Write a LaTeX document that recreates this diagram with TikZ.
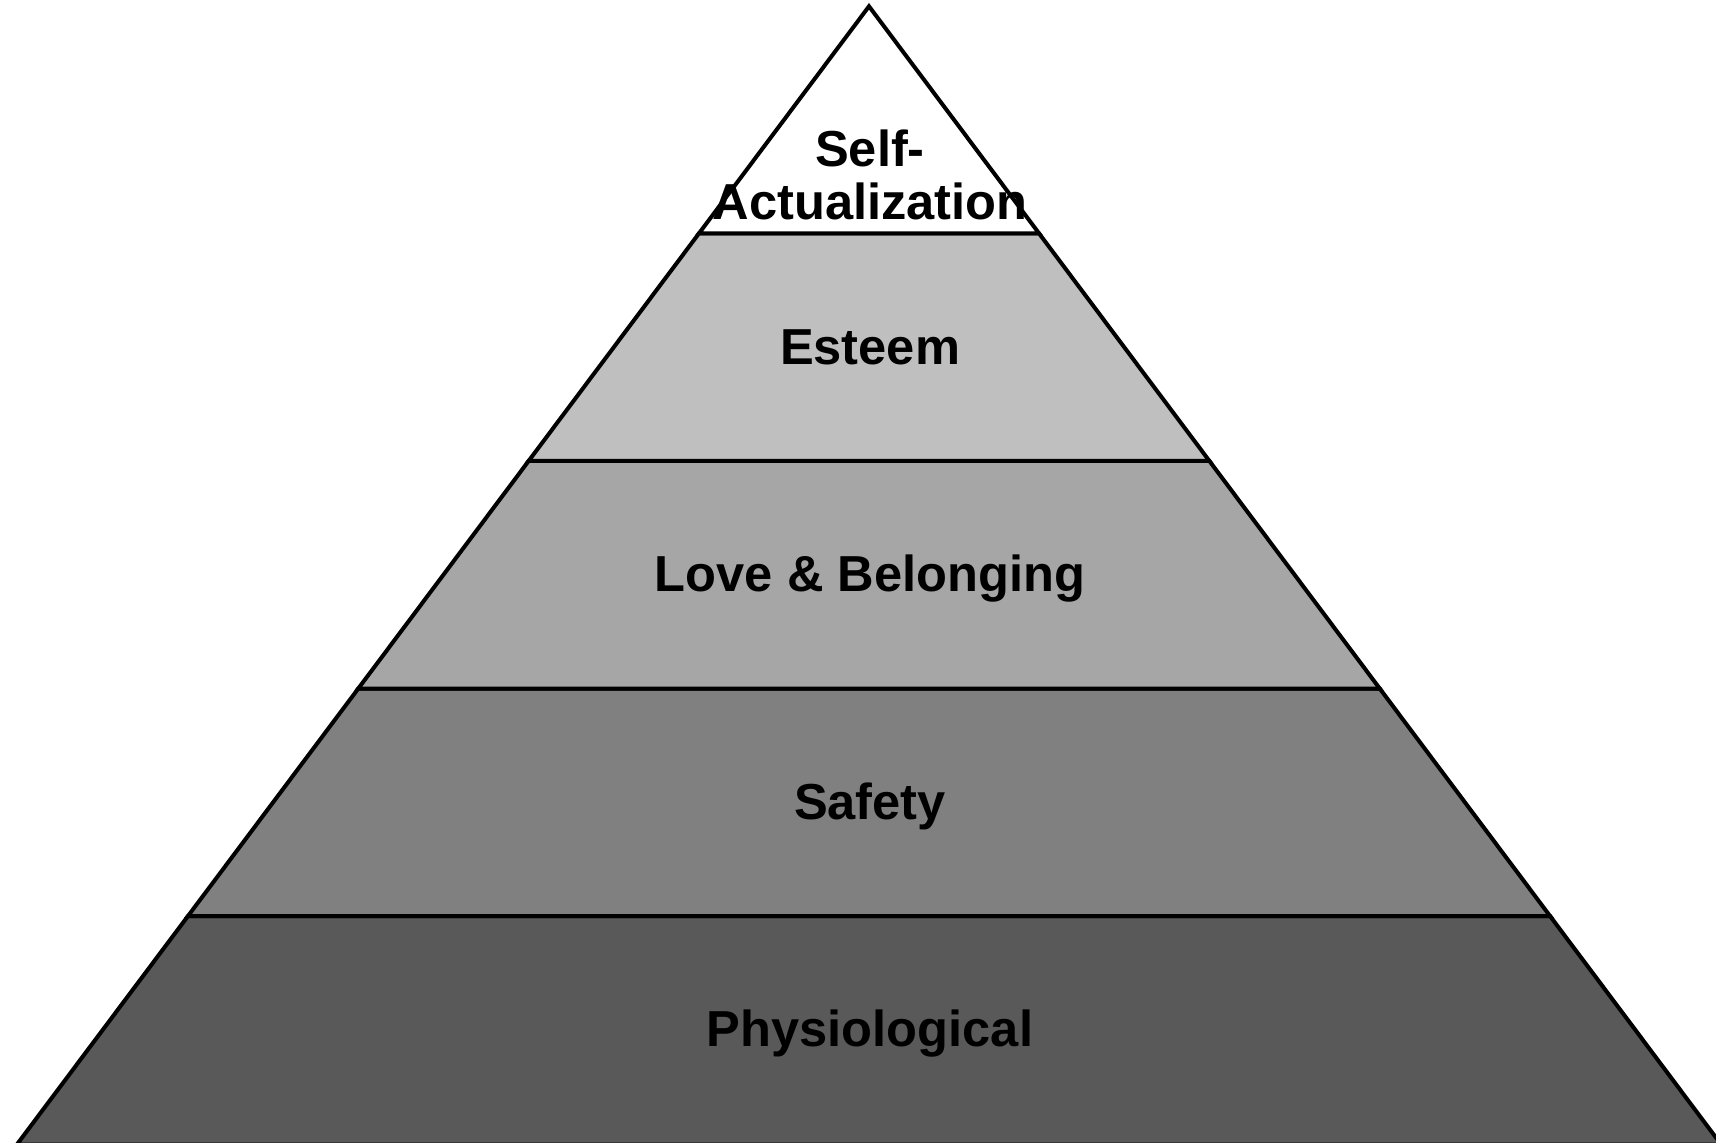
\documentclass[tikz,border=0pt]{standalone}
\usepackage{fontspec}
\setmainfont{Liberation Sans}
\definecolor{lvA}{HTML}{FFFFFF}
\definecolor{lvB}{HTML}{BFBFBF}
\definecolor{lvC}{HTML}{A6A6A6}
\definecolor{lvD}{HTML}{808080}
\definecolor{lvE}{HTML}{595959}
\begin{document}
\begin{tikzpicture}[x=0.5pt,y=-0.5pt,
  layer/.style={draw=black,line width=2pt,line join=miter},
  lbl/.style={font=\fontsize{25.3}{26.3}\selectfont\bfseries,text=black,inner sep=0pt,align=center}]
\useasboundingbox (0,0) rectangle (1716,1143);
\fill[white] (0,0) rectangle (1716,1143);
\begin{scope}
\clip (0,0) rectangle (1716,1143);
\draw[layer,fill=lvE] (188.0,916) -- (1550.0,916) -- (1721.1,1144.5) -- (16.9,1144.5) -- cycle;
\draw[layer,fill=lvD] (358.3,688.5) -- (1379.7,688.5) -- (1550.0,916) -- (188.0,916) -- cycle;
\draw[layer,fill=lvC] (528.6,461) -- (1209.4,461) -- (1379.7,688.5) -- (358.3,688.5) -- cycle;
\draw[layer,fill=lvB] (698.9,233.5) -- (1039.1,233.5) -- (1209.4,461) -- (528.6,461) -- cycle;
\draw[layer,fill=lvA] (869,6.3) -- (1039.1,233.5) -- (698.9,233.5) -- cycle;
\end{scope}
\node[lbl] (self) at (870,175) {Self-\\Actualization};
\node[lbl] (esteem) at (870,347) {Esteem};
\node[lbl] (love) at (870,579) {Love \& Belonging};
\node[lbl] (safety) at (870,806) {Safety};
\node[lbl] (phys) at (870,1034) {Physiological};
\end{tikzpicture}
\end{document}
